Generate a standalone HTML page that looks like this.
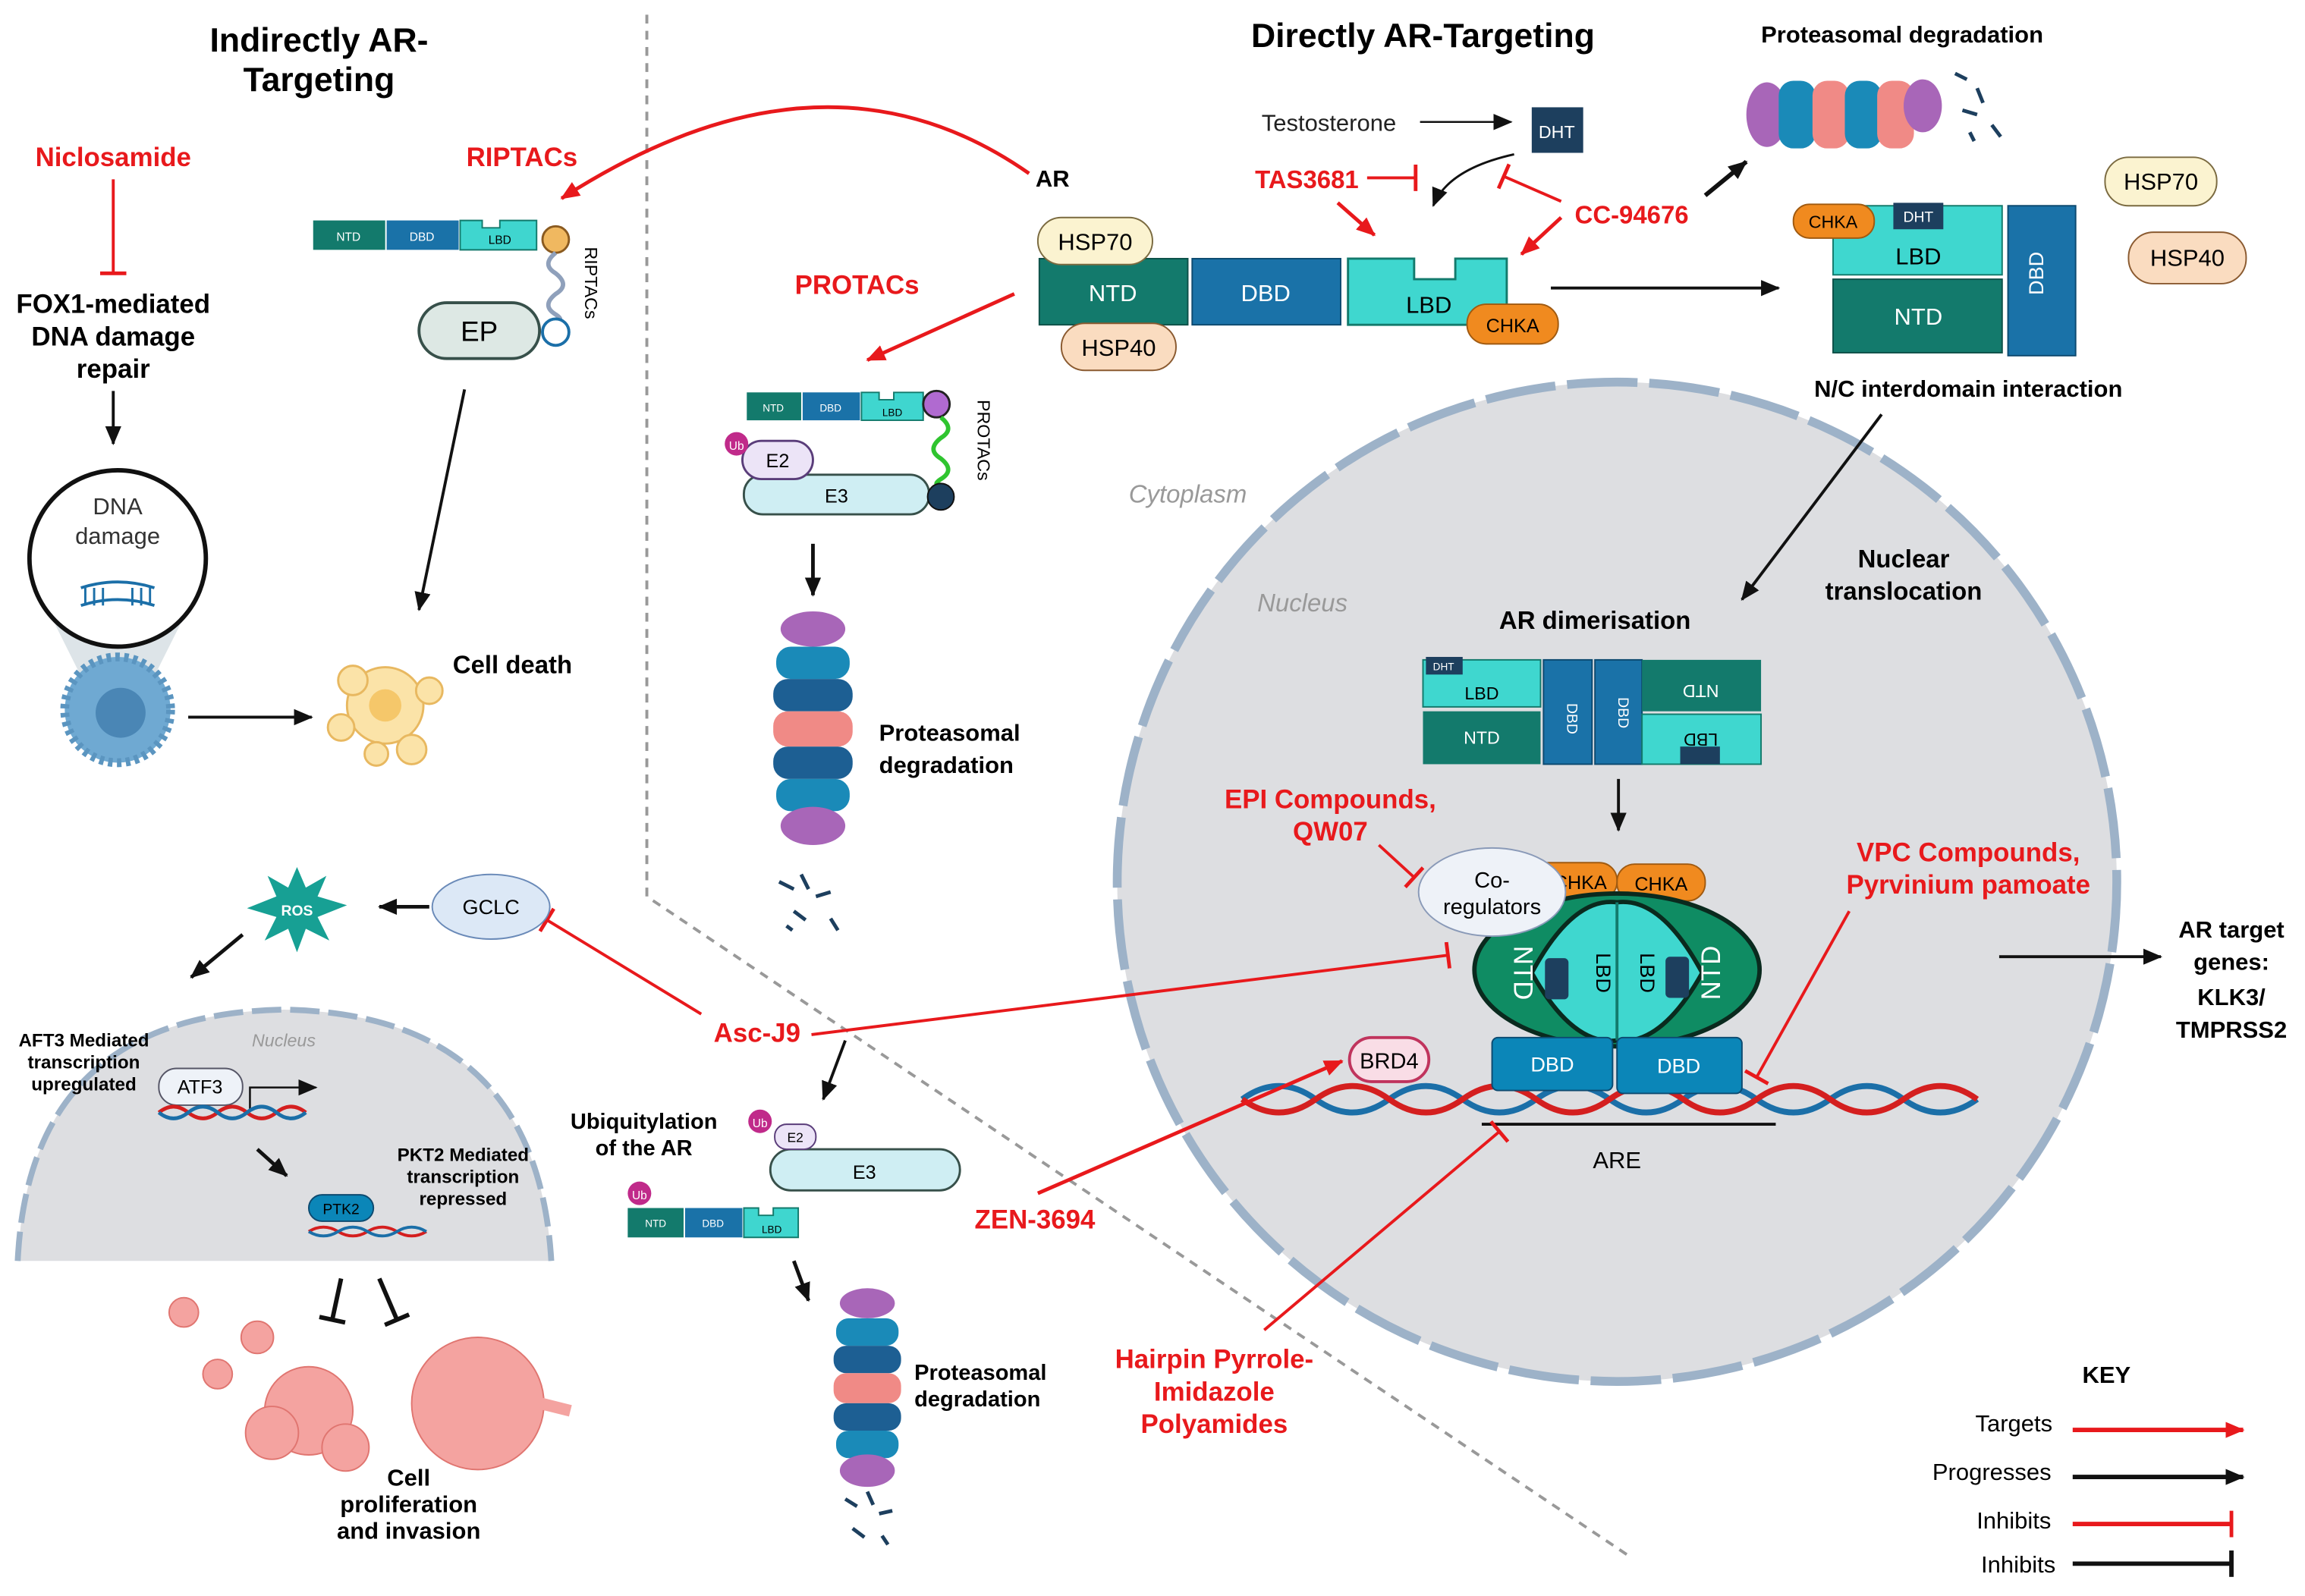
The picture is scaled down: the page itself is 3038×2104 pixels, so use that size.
<!DOCTYPE html>
<html><head><meta charset="utf-8"><style>
html,body{margin:0;padding:0;background:#fff;}
svg{display:block;font-family:"Liberation Sans",Arial,sans-serif;}
.b{font-weight:bold;}
.r{fill:#e8191c;font-weight:bold;}
</style></head><body>
<svg width="3038" height="2104" viewBox="0 0 1568 1086" xmlns="http://www.w3.org/2000/svg">
<defs>
<marker id="ak" markerWidth="14" markerHeight="12" refX="12" refY="6" orient="auto" markerUnits="userSpaceOnUse"><path d="M0,0.5 L13,6 L0,11.5Z" fill="#111"/></marker>
<marker id="ar" markerWidth="14" markerHeight="12" refX="12" refY="6" orient="auto" markerUnits="userSpaceOnUse"><path d="M0,0.5 L13,6 L0,11.5Z" fill="#e8191c"/></marker>
<marker id="tr" markerWidth="4" markerHeight="18" refX="2" refY="9" orient="auto" markerUnits="userSpaceOnUse"><path d="M2,0 L2,18" stroke="#e8191c" stroke-width="2.5"/></marker>
<marker id="tk" markerWidth="4" markerHeight="18" refX="2" refY="9" orient="auto" markerUnits="userSpaceOnUse"><path d="M2,0 L2,18" stroke="#111" stroke-width="3"/></marker>
</defs>

<path d="M440,10 L440,610 L1110,1060" fill="none" stroke="#999" stroke-width="2" stroke-dasharray="6,5"/>

<circle cx="1100" cy="600" r="340" fill="#dddee1"/>
<circle cx="1100" cy="600" r="340" fill="none" stroke="#9db2c8" stroke-width="6" stroke-dasharray="48,8"/>

<path d="M12,858 Q20,690 193,687 Q365,690 375,858 Z" fill="#dddee1"/>
<path d="M12,858 Q20,690 193,687 Q365,690 375,858" fill="none" stroke="#9db2c8" stroke-width="4" stroke-dasharray="20,6"/>

<text x="217" y="35" text-anchor="middle" class="b" font-size="23">Indirectly AR-</text>
<text x="217" y="62" text-anchor="middle" class="b" font-size="23">Targeting</text>
<text x="968" y="32" text-anchor="middle" class="b" font-size="23">Directly AR-Targeting</text>

<text x="77" y="113" text-anchor="middle" class="r" font-size="18">Niclosamide</text>
<line x1="77" y1="122" x2="77" y2="186" stroke="#e8191c" stroke-width="2" marker-end="url(#tr)"/>
<text x="77" y="213" text-anchor="middle" class="b" font-size="18">FOX1-mediated</text>
<text x="77" y="235" text-anchor="middle" class="b" font-size="18">DNA damage</text>
<text x="77" y="257" text-anchor="middle" class="b" font-size="18">repair</text>
<line x1="77" y1="266" x2="77" y2="302" stroke="#111" stroke-width="2" marker-end="url(#ak)"/>
<path d="M35,420 L125,420 L100,470 L60,470Z" fill="#cfd8de" opacity="0.7"/>
<circle cx="80" cy="380" r="60" fill="#fff" stroke="#111" stroke-width="3"/>
<text x="80" y="350" text-anchor="middle" font-size="16" fill="#333">DNA</text>
<text x="80" y="370" text-anchor="middle" font-size="16" fill="#333">damage</text>
<path d="M55,400 Q80,392 105,400 M55,412 Q80,404 105,412" stroke="#1b6fa8" stroke-width="2" fill="none"/>
<path d="M58,400v12M64,400v12M70,400v12M90,400v12M96,400v12M102,400v12" stroke="#1b6fa8" stroke-width="1.5"/>
<circle cx="80" cy="483" r="36" fill="#6fa9d2" stroke="#5b95c0" stroke-width="6" stroke-dasharray="3,3"/>
<circle cx="82" cy="485" r="17" fill="#4a86b5"/>
<line x1="128" y1="488" x2="212" y2="488" stroke="#111" stroke-width="2" marker-end="url(#ak)"/>
<g fill="#fbe3a8" stroke="#e8b860" stroke-width="1.5">
<circle cx="262" cy="480" r="26"/><circle cx="240" cy="463" r="10"/><circle cx="232" cy="495" r="9"/><circle cx="280" cy="510" r="10"/><circle cx="292" cy="470" r="9"/><circle cx="256" cy="513" r="8"/></g>
<circle cx="262" cy="480" r="11" fill="#f5c76a"/>
<text x="308" y="458" class="b" font-size="17">Cell death</text>

<text x="355" y="113" text-anchor="middle" class="r" font-size="18">RIPTACs</text>
<path d="M700,118 Q560,20 382,135" fill="none" stroke="#e8191c" stroke-width="2.5" marker-end="url(#ar)"/>
<rect x="213" y="150" width="49" height="20" fill="#137a6c"/><text x="237" y="164" text-anchor="middle" fill="#fff" font-size="8">NTD</text>
<rect x="263" y="150" width="49" height="20" fill="#1a72a8"/><text x="287" y="164" text-anchor="middle" fill="#fff" font-size="8">DBD</text>
<path d="M313,150 h15 v5 h12 v-5 h25 v20 h-52Z" fill="#3fd6cf" stroke="#137a6c"/><text x="340" y="166" text-anchor="middle" font-size="8">LBD</text>
<circle cx="378" cy="163" r="9" fill="#f0b860" stroke="#8a5a20" stroke-width="1.5"/>
<path d="M378,172 q-10,8 0,14 q10,8 0,14 q-10,8 0,14 q6,4 0,4" fill="none" stroke="#8fa0bb" stroke-width="3"/>
<circle cx="378" cy="226" r="9" fill="#fff" stroke="#1b6fa8" stroke-width="2"/>
<rect x="285" y="206" width="82" height="38" rx="19" fill="#dde8e4" stroke="#37504a" stroke-width="2"/>
<text x="326" y="232" text-anchor="middle" font-size="19">EP</text>
<text x="398" y="168" font-size="12" transform="rotate(90 398 168)">RIPTACs</text>
<line x1="316" y1="265" x2="285" y2="415" stroke="#111" stroke-width="2" marker-end="url(#ak)"/>

<text x="583" y="200" text-anchor="middle" class="r" font-size="18">PROTACs</text>
<line x1="690" y1="200" x2="590" y2="245" stroke="#e8191c" stroke-width="2.5" marker-end="url(#ar)"/>
<rect x="508" y="267" width="37" height="19" fill="#137a6c"/><text x="526" y="280" text-anchor="middle" fill="#fff" font-size="7">NTD</text>
<rect x="546" y="267" width="39" height="19" fill="#1a72a8"/><text x="565" y="280" text-anchor="middle" fill="#fff" font-size="7">DBD</text>
<path d="M586,267 h12 v5 h10 v-5 h20 v19 h-42Z" fill="#3fd6cf" stroke="#137a6c"/><text x="607" y="283" text-anchor="middle" font-size="7">LBD</text>
<circle cx="637" cy="275" r="9" fill="#b06ad0" stroke="#222" stroke-width="1.5"/>
<path d="M640,284 q10,8 0,14 q-10,8 0,14 q10,8 0,14 q-6,4 0,4" fill="none" stroke="#2fc42f" stroke-width="3"/>
<rect x="506" y="323" width="126" height="27" rx="13" fill="#cfeef3" stroke="#37504a" stroke-width="1.5"/>
<text x="569" y="342" text-anchor="middle" font-size="13">E3</text>
<circle cx="640" cy="338" r="9" fill="#1d3f5e" stroke="#111"/>
<rect x="505" y="300" width="48" height="26" rx="13" fill="#ece4f7" stroke="#5a3d7a" stroke-width="1.5"/>
<text x="529" y="318" text-anchor="middle" font-size="13">E2</text>
<circle cx="501" cy="302" r="8" fill="#c02a8a"/><text x="501" y="306" text-anchor="middle" fill="#fff" font-size="8">Ub</text>
<text x="665" y="272" font-size="12" transform="rotate(90 665 272)">PROTACs</text>
<line x1="553" y1="370" x2="553" y2="405" stroke="#111" stroke-width="2.5" marker-end="url(#ak)"/>
<g id="prot">
<ellipse cx="553" cy="428" rx="22" ry="12" fill="#a866b8"/>
<rect x="528" y="440" width="50" height="22" rx="10" fill="#1a8ab8"/>
<rect x="526" y="462" width="54" height="22" rx="10" fill="#1d5f93"/>
<rect x="526" y="484" width="54" height="24" rx="10" fill="#f08a86"/>
<rect x="526" y="508" width="54" height="22" rx="10" fill="#1d5f93"/>
<rect x="528" y="530" width="50" height="22" rx="10" fill="#1a8ab8"/>
<ellipse cx="553" cy="562" rx="22" ry="13" fill="#a866b8"/>
</g>
<text x="598" y="504" class="b" font-size="16">Proteasomal</text>
<text x="598" y="526" class="b" font-size="16">degradation</text>
<path d="M530,600 l10,5 M545,595 l5,10 M555,610 l10,-3 M540,620 l8,6 M565,625 l5,8 M535,630 l4,3" stroke="#1d3f5e" stroke-width="2.5"/>

<text x="716" y="127" text-anchor="middle" class="b" font-size="16">AR</text>
<rect x="707" y="176" width="101" height="45" fill="#137a6c" stroke="#0d5048"/><text x="757" y="205" text-anchor="middle" fill="#fff" font-size="16">NTD</text>
<rect x="811" y="176" width="101" height="45" fill="#1a72a8" stroke="#0d4a70"/><text x="861" y="205" text-anchor="middle" fill="#fff" font-size="16">DBD</text>
<path d="M917,176 h45 v14 h28 v-14 h35 v45 h-108Z" fill="#3fd7cf" stroke="#137a6c" stroke-width="1.5"/><text x="972" y="213" text-anchor="middle" font-size="16">LBD</text>
<rect x="706" y="148" width="78" height="32" rx="16" fill="#fbf3d0" stroke="#7a6a40"/><text x="745" y="170" text-anchor="middle" font-size="16">HSP70</text>
<rect x="722" y="220" width="78" height="32" rx="16" fill="#fadcc0" stroke="#8a5a30"/><text x="761" y="242" text-anchor="middle" font-size="16">HSP40</text>
<rect x="998" y="207" width="62" height="27" rx="13" fill="#f08a1f" stroke="#a05a10"/><text x="1029" y="226" text-anchor="middle" font-size="13">CHKA</text>
<text x="904" y="89" text-anchor="middle" font-size="16" fill="#222">Testosterone</text>
<line x1="966" y1="83" x2="1028" y2="83" stroke="#111" stroke-width="1.3" marker-end="url(#ak)"/>
<rect x="1042" y="73" width="35" height="31" fill="#1d3f5e"/><text x="1059" y="94" text-anchor="middle" fill="#fff" font-size="12">DHT</text>
<path d="M1030,105 Q985,115 975,140" fill="none" stroke="#111" stroke-width="1.5" marker-end="url(#ak)"/>
<text x="889" y="128" text-anchor="middle" class="r" font-size="17">TAS3681</text>
<line x1="930" y1="121" x2="963" y2="121" stroke="#e8191c" stroke-width="2" marker-end="url(#tr)"/>
<line x1="910" y1="138" x2="935" y2="160" stroke="#e8191c" stroke-width="2.5" marker-end="url(#ar)"/>
<text x="1110" y="152" text-anchor="middle" class="r" font-size="17">CC-94676</text>
<line x1="1062" y1="137" x2="1023" y2="120" stroke="#e8191c" stroke-width="2" marker-end="url(#tr)"/>
<line x1="1062" y1="148" x2="1035" y2="173" stroke="#e8191c" stroke-width="2.5" marker-end="url(#ar)"/>
<line x1="1055" y1="196" x2="1210" y2="196" stroke="#111" stroke-width="2" marker-end="url(#ak)"/>

<rect x="1247" y="140" width="115" height="47" fill="#3fd7cf" stroke="#137a6c"/><text x="1305" y="180" text-anchor="middle" font-size="16">LBD</text>
<rect x="1288" y="138" width="34" height="18" fill="#1d3f5e"/><text x="1305" y="151" text-anchor="middle" fill="#fff" font-size="10">DHT</text>
<rect x="1220" y="139" width="55" height="23" rx="11" fill="#f08a1f" stroke="#a05a10"/><text x="1247" y="155" text-anchor="middle" font-size="12">CHKA</text>
<rect x="1247" y="190" width="115" height="50" fill="#137a6c" stroke="#0d5048"/><text x="1305" y="221" text-anchor="middle" fill="#fff" font-size="16">NTD</text>
<rect x="1366" y="140" width="46" height="102" fill="#1a72a8" stroke="#0d4a70"/><text x="1395" y="191" text-anchor="middle" fill="#fff" font-size="14" transform="rotate(-90 1390 191)">DBD</text>
<rect x="1432" y="107" width="76" height="33" rx="16" fill="#fbf3d0" stroke="#7a6a40"/><text x="1470" y="129" text-anchor="middle" font-size="16">HSP70</text>
<rect x="1448" y="158" width="80" height="35" rx="17" fill="#fadcc0" stroke="#8a5a30"/><text x="1488" y="181" text-anchor="middle" font-size="16">HSP40</text>
<text x="1294" y="29" text-anchor="middle" class="b" font-size="16">Proteasomal degradation</text>
<g>
<ellipse cx="1202" cy="78" rx="14" ry="22" fill="#a866b8"/>
<rect x="1210" y="55" width="25" height="46" rx="10" fill="#1a8ab8"/>
<rect x="1233" y="55" width="25" height="46" rx="10" fill="#f08a86"/>
<rect x="1255" y="55" width="25" height="46" rx="10" fill="#1a8ab8"/>
<rect x="1277" y="55" width="25" height="46" rx="10" fill="#f08a86"/>
<ellipse cx="1308" cy="72" rx="13" ry="18" fill="#a866b8"/>
</g>
<path d="M1330,50 l8,4 M1345,60 l4,10 M1335,75 l10,3 M1355,85 l6,8 M1340,90 l3,6" stroke="#1d3f5e" stroke-width="2.5"/>
<line x1="1160" y1="133" x2="1188" y2="110" stroke="#111" stroke-width="3" marker-end="url(#ak)"/>
<text x="1339" y="270" text-anchor="middle" class="b" font-size="16">N/C interdomain interaction</text>
<line x1="1280" y1="282" x2="1185" y2="408" stroke="#111" stroke-width="2" marker-end="url(#ak)"/>

<text x="808" y="342" text-anchor="middle" font-style="italic" fill="#999" font-size="17">Cytoplasm</text>
<text x="886" y="416" text-anchor="middle" font-style="italic" fill="#999" font-size="17">Nucleus</text>
<text x="1295" y="386" text-anchor="middle" class="b" font-size="17">Nuclear</text>
<text x="1295" y="408" text-anchor="middle" class="b" font-size="17">translocation</text>
<text x="1085" y="428" text-anchor="middle" class="b" font-size="17">AR dimerisation</text>

<rect x="968" y="449" width="80" height="32" fill="#3fd7cf" stroke="#137a6c"/><text x="1008" y="476" text-anchor="middle" font-size="12">LBD</text>
<rect x="970" y="447" width="25" height="12" fill="#1d3f5e"/><text x="982" y="456" text-anchor="middle" fill="#fff" font-size="7">DHT</text>
<rect x="968" y="484" width="80" height="36" fill="#137a6c"/><text x="1008" y="506" text-anchor="middle" fill="#fff" font-size="12">NTD</text>
<rect x="1050" y="449" width="33" height="71" fill="#1a72a8" stroke="#0d4a70"/><text x="1070" y="485" text-anchor="middle" fill="#fff" font-size="10" transform="rotate(90 1066 485)">DBD</text>
<rect x="1085" y="449" width="32" height="71" fill="#1a72a8" stroke="#0d4a70"/><text x="1101" y="485" text-anchor="middle" fill="#fff" font-size="10" transform="rotate(90 1101 485)">DBD</text>
<rect x="1117" y="449" width="81" height="35" fill="#137a6c"/><text x="1157" y="466" text-anchor="middle" fill="#fff" font-size="12" transform="rotate(180 1157 466)">NTD</text>
<rect x="1117" y="486" width="81" height="34" fill="#3fd7cf" stroke="#137a6c"/><text x="1157" y="499" text-anchor="middle" font-size="12" transform="rotate(180 1157 499)">LBD</text>
<rect x="1143" y="508" width="27" height="12" fill="#1d3f5e"/>
<line x1="1101" y1="530" x2="1101" y2="565" stroke="#111" stroke-width="2" marker-end="url(#ak)"/>

<text x="905" y="550" text-anchor="middle" class="r" font-size="18">EPI Compounds,</text>
<text x="905" y="572" text-anchor="middle" class="r" font-size="18">QW07</text>
<line x1="938" y1="575" x2="962" y2="597" stroke="#e8191c" stroke-width="2" marker-end="url(#tr)"/>

<rect x="1100" y="588" width="60" height="25" rx="12" fill="#f08a1f" stroke="#a05a10"/><text x="1130" y="606" text-anchor="middle" font-size="13">CHKA</text>
<rect x="1040" y="587" width="60" height="25" rx="12" fill="#f08a1f" stroke="#a05a10"/><text x="1075" y="605" text-anchor="middle" font-size="13">CHKA</text>
<ellipse cx="1100" cy="660" rx="97" ry="52" fill="#0f8c63" stroke="#0a2a1e" stroke-width="3"/>
<path d="M1042,662 Q1070,610 1100,614 Q1130,610 1158,662 Q1130,712 1100,708 Q1070,712 1042,662Z" fill="#3fd7cf" stroke="#0a2a1e" stroke-width="3"/>
<line x1="1100" y1="614" x2="1100" y2="708" stroke="#137a6c" stroke-width="2"/>
<rect x="1051" y="652" width="16" height="28" rx="3" fill="#1d3f5e"/><rect x="1133" y="651" width="16" height="28" rx="3" fill="#1d3f5e"/>
<text x="1086" y="662" text-anchor="middle" font-size="14" transform="rotate(90 1086 662)">LBD</text>
<text x="1116" y="662" text-anchor="middle" font-size="14" transform="rotate(90 1116 662)">LBD</text>
<text x="1030" y="662" text-anchor="middle" fill="#fff" font-size="18" transform="rotate(90 1030 662)">NTD</text>
<text x="1170" y="662" text-anchor="middle" fill="#fff" font-size="18" transform="rotate(-90 1170 662)">NTD</text>
<ellipse cx="1015" cy="607" rx="50" ry="30" fill="#eef2f8" stroke="#8a9ab8"/>
<text x="1015" y="604" text-anchor="middle" font-size="15">Co-</text>
<text x="1015" y="622" text-anchor="middle" font-size="15">regulators</text>
<path d="M845,748 Q870,730 895,748 T945,748 T995,748 T1045,748 T1095,748 T1145,748 T1195,748 T1245,748 T1295,748 T1345,748" fill="none" stroke="#1b6fa8" stroke-width="4"/>
<path d="M845,748 Q870,766 895,748 T945,748 T995,748 T1045,748 T1095,748 T1145,748 T1195,748 T1245,748 T1295,748 T1345,748" fill="none" stroke="#d41f1f" stroke-width="4"/>
<rect x="1015" y="706" width="82" height="36" rx="4" fill="#0b86b8" stroke="#0d4a70"/><text x="1056" y="729" text-anchor="middle" fill="#fff" font-size="14">DBD</text>
<rect x="1100" y="706" width="85" height="38" rx="4" fill="#0b86b8" stroke="#0d4a70"/><text x="1142" y="730" text-anchor="middle" fill="#fff" font-size="14">DBD</text>
<rect x="918" y="706" width="54" height="30" rx="15" fill="#f9dde6" stroke="#c0345d" stroke-width="2"/><text x="945" y="727" text-anchor="middle" font-size="15">BRD4</text>
<line x1="1008" y1="765" x2="1208" y2="765" stroke="#111" stroke-width="2"/>
<text x="1100" y="795" text-anchor="middle" font-size="16">ARE</text>

<text x="1339" y="586" text-anchor="middle" class="r" font-size="18">VPC Compounds,</text>
<text x="1339" y="608" text-anchor="middle" class="r" font-size="18">Pyrvinium pamoate</text>
<line x1="1258" y1="620" x2="1195" y2="733" stroke="#e8191c" stroke-width="2" marker-end="url(#tr)"/>
<line x1="1360" y1="651" x2="1470" y2="651" stroke="#111" stroke-width="2" marker-end="url(#ak)"/>
<text x="1518" y="638" text-anchor="middle" class="b" font-size="16">AR target</text>
<text x="1518" y="660" text-anchor="middle" class="b" font-size="16">genes:</text>
<text x="1518" y="684" text-anchor="middle" class="b" font-size="16">KLK3/</text>
<text x="1518" y="706" text-anchor="middle" class="b" font-size="16">TMPRSS2</text>

<text x="826" y="931" text-anchor="middle" class="r" font-size="18">Hairpin Pyrrole-</text>
<text x="826" y="953" text-anchor="middle" class="r" font-size="18">Imidazole</text>
<text x="826" y="975" text-anchor="middle" class="r" font-size="18">Polyamides</text>
<line x1="860" y1="905" x2="1020" y2="770" stroke="#e8191c" stroke-width="2" marker-end="url(#tr)"/>
<text x="704" y="836" text-anchor="middle" class="r" font-size="18">ZEN-3694</text>
<line x1="706" y1="812" x2="913" y2="722" stroke="#e8191c" stroke-width="2.5" marker-end="url(#ar)"/>

<text x="515" y="709" text-anchor="middle" class="r" font-size="18">Asc-J9</text>
<line x1="477" y1="690" x2="372" y2="626" stroke="#e8191c" stroke-width="2" marker-end="url(#tr)"/>
<line x1="552" y1="704" x2="985" y2="650" stroke="#e8191c" stroke-width="2" marker-end="url(#tr)"/>
<line x1="575" y1="708" x2="560" y2="748" stroke="#111" stroke-width="2" marker-end="url(#ak)"/>

<ellipse cx="334" cy="617" rx="40" ry="22" fill="#dce8f6" stroke="#6a8ab8"/><text x="334" y="622" text-anchor="middle" font-size="14">GCLC</text>
<line x1="292" y1="617" x2="258" y2="617" stroke="#111" stroke-width="2.5" marker-end="url(#ak)"/>
<polygon points="202,590 208,604 222,596 216,610 236,616 216,624 224,640 208,632 202,648 196,632 180,640 188,624 168,618 188,610 182,596 196,604" fill="#17a094"/>
<text x="202" y="623" text-anchor="middle" fill="#fff" font-size="10" class="b">ROS</text>
<line x1="165" y1="636" x2="130" y2="665" stroke="#111" stroke-width="2.5" marker-end="url(#ak)"/>

<text x="193" y="712" text-anchor="middle" font-style="italic" fill="#999" font-size="12">Nucleus</text>
<text x="57" y="712" text-anchor="middle" class="b" font-size="12.5">AFT3 Mediated</text>
<text x="57" y="727" text-anchor="middle" class="b" font-size="12.5">transcription</text>
<text x="57" y="742" text-anchor="middle" class="b" font-size="12.5">upregulated</text>
<rect x="108" y="727" width="57" height="25" rx="12" fill="#eef2f8" stroke="#556"/><text x="136" y="744" text-anchor="middle" font-size="13">ATF3</text>
<path d="M170,755 V740 H215" fill="none" stroke="#111" stroke-width="1.3" marker-end="url(#ak)"/>
<path d="M108,757 q10,-8 20,0 t20,0 t20,0 t20,0 t20,0" fill="none" stroke="#d41f1f" stroke-width="2.5"/>
<path d="M108,757 q10,8 20,0 t20,0 t20,0 t20,0 t20,0" fill="none" stroke="#1b6fa8" stroke-width="2.5"/>
<line x1="175" y1="782" x2="195" y2="800" stroke="#111" stroke-width="2.5" marker-end="url(#ak)"/>
<rect x="210" y="813" width="44" height="18" rx="9" fill="#0b86b8" stroke="#0d4a70"/><text x="232" y="826" text-anchor="middle" font-size="10">PTK2</text>
<path d="M210,838 q10,-6 20,0 t20,0 t20,0 t20,0" fill="none" stroke="#d41f1f" stroke-width="2"/>
<path d="M210,838 q10,6 20,0 t20,0 t20,0 t20,0" fill="none" stroke="#1b6fa8" stroke-width="2"/>
<text x="315" y="790" text-anchor="middle" class="b" font-size="12.5">PKT2 Mediated</text>
<text x="315" y="805" text-anchor="middle" class="b" font-size="12.5">transcription</text>
<text x="315" y="820" text-anchor="middle" class="b" font-size="12.5">repressed</text>
<line x1="232" y1="870" x2="226" y2="898" stroke="#111" stroke-width="3" marker-end="url(#tk)"/>
<line x1="258" y1="870" x2="270" y2="898" stroke="#111" stroke-width="3" marker-end="url(#tk)"/>
<g fill="#f4a3a0" stroke="#e07570">
<circle cx="125" cy="893" r="10"/><circle cx="175" cy="910" r="11"/><circle cx="148" cy="935" r="10"/>
<circle cx="210" cy="960" r="30"/><circle cx="185" cy="975" r="18"/><circle cx="235" cy="985" r="16"/>
<circle cx="325" cy="955" r="45"/></g>
<path d="M368,955 l20,5" stroke="#f4a3a0" stroke-width="8"/>
<text x="278" y="1011" text-anchor="middle" class="b" font-size="16">Cell</text>
<text x="278" y="1029" text-anchor="middle" class="b" font-size="16">proliferation</text>
<text x="278" y="1047" text-anchor="middle" class="b" font-size="16">and invasion</text>

<text x="438" y="768" text-anchor="middle" class="b" font-size="15">Ubiquitylation</text>
<text x="438" y="786" text-anchor="middle" class="b" font-size="15">of the AR</text>
<rect x="524" y="782" width="129" height="28" rx="14" fill="#cfeef3" stroke="#37504a" stroke-width="1.5"/><text x="588" y="802" text-anchor="middle" font-size="13">E3</text>
<rect x="527" y="765" width="28" height="17" rx="8" fill="#ece4f7" stroke="#5a3d7a"/><text x="541" y="777" text-anchor="middle" font-size="9">E2</text>
<circle cx="517" cy="763" r="8" fill="#c02a8a"/><text x="517" y="767" text-anchor="middle" fill="#fff" font-size="8">Ub</text>
<circle cx="435" cy="812" r="8" fill="#c02a8a"/><text x="435" y="816" text-anchor="middle" fill="#fff" font-size="8">Ub</text>
<rect x="427" y="822" width="38" height="20" fill="#137a6c"/><text x="446" y="835" text-anchor="middle" fill="#fff" font-size="7">NTD</text>
<rect x="466" y="822" width="39" height="20" fill="#1a72a8"/><text x="485" y="835" text-anchor="middle" fill="#fff" font-size="7">DBD</text>
<path d="M506,822 h10 v5 h10 v-5 h17 v20 h-37Z" fill="#3fd6cf" stroke="#137a6c"/><text x="525" y="839" text-anchor="middle" font-size="7">LBD</text>
<line x1="540" y1="858" x2="550" y2="885" stroke="#111" stroke-width="2.5" marker-end="url(#ak)"/>
<use href="#prot" transform="translate(590 880) scale(0.85) translate(-553 -420)"/>
<text x="622" y="939" class="b" font-size="15">Proteasomal</text>
<text x="622" y="957" class="b" font-size="15">degradation</text>
<path d="M575,1020 l8,5 M590,1015 l4,9 M598,1030 l9,-2 M580,1040 l8,6 M600,1045 l4,6" stroke="#1d3f5e" stroke-width="2.5"/>

<text x="1433" y="941" text-anchor="middle" class="b" font-size="16">KEY</text>
<text x="1370" y="974" text-anchor="middle" font-size="16">Targets</text>
<line x1="1410" y1="973" x2="1526" y2="973" stroke="#e8191c" stroke-width="3" marker-end="url(#ar)"/>
<text x="1355" y="1007" text-anchor="middle" font-size="16">Progresses</text>
<line x1="1410" y1="1005" x2="1526" y2="1005" stroke="#111" stroke-width="3" marker-end="url(#ak)"/>
<text x="1370" y="1040" text-anchor="middle" font-size="16">Inhibits</text>
<line x1="1410" y1="1037" x2="1518" y2="1037" stroke="#e8191c" stroke-width="3" marker-end="url(#tr)"/>
<text x="1373" y="1070" text-anchor="middle" font-size="16">Inhibits</text>
<line x1="1410" y1="1064" x2="1518" y2="1064" stroke="#111" stroke-width="3" marker-end="url(#tk)"/>
</svg>
</body></html>
